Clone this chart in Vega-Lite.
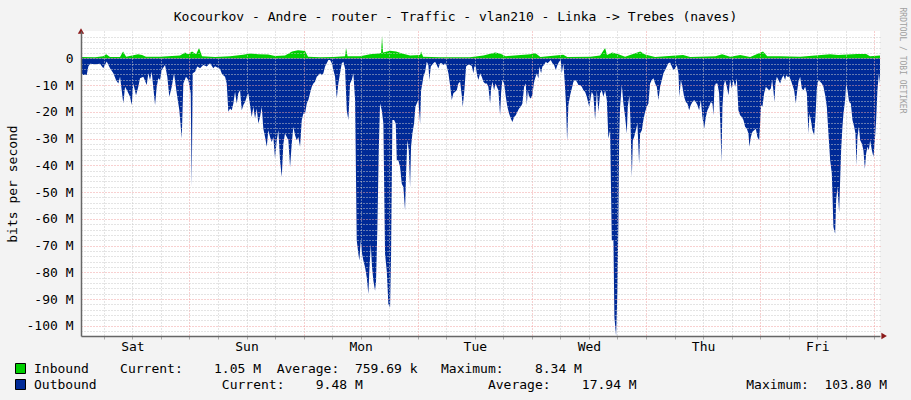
{
  "$schema": "https://vega.github.io/schema/vega-lite/v6.json",
  "width": 799,
  "height": 305,
  "autosize": {"type": "none"},
  "padding": {"left": 81, "top": 31, "right": 31, "bottom": 64},
  "background": "#f3f3f3",
  "title": {
    "text": "Kocourkov - Andre - router - Traffic - vlan210 - Linka -> Trebes (naves)",
    "anchor": "middle", "dx": -25, "dy": 23, "offset": 0, "baseline": "middle",
    "font": "DejaVu Sans Mono", "fontSize": 13, "fontWeight": "normal", "color": "#000"
  },
  "config": {
    "view": {"fill": "#ffffff", "stroke": null},
    "font": "DejaVu Sans Mono"
  },
  "datasets": {
    "outbound": [
      {"t": -22.8, "v": -3}, {"t": -22.65, "v": -5.6}, {"t": -22.31, "v": -6.2}, {"t": -21.6, "v": -6.2},
      {"t": -21.26, "v": -3.1}, {"t": -20.9, "v": -2}, {"t": -19.85, "v": -2.2}, {"t": -18.8, "v": -2},
      {"t": -18.11, "v": -3.7}, {"t": -17.39, "v": -1.2}, {"t": -16.7, "v": -3.7}, {"t": -16, "v": -5.6},
      {"t": -15.44, "v": -8.1}, {"t": -14.95, "v": -9.4}, {"t": -14.59, "v": -6.9}, {"t": -13.9, "v": -16.9},
      {"t": -13.54, "v": -10.6}, {"t": -12.98, "v": -12.5}, {"t": -12.49, "v": -14.4}, {"t": -12.13, "v": -17.5},
      {"t": -11.8, "v": -9.4}, {"t": -11.23, "v": -13.8}, {"t": -10.75, "v": -10.6}, {"t": -10.39, "v": -7.5},
      {"t": -9.69, "v": -6.9}, {"t": -8.98, "v": -10}, {"t": -8.64, "v": -5.6}, {"t": -8.29, "v": -8.1},
      {"t": -7.93, "v": -5}, {"t": -7.23, "v": -17.5}, {"t": -6.88, "v": -10.6}, {"t": -6.54, "v": -7.5},
      {"t": -6.18, "v": -8.1}, {"t": -5.83, "v": -4.4}, {"t": -5.13, "v": -2.5}, {"t": -4.65, "v": -6.9},
      {"t": -4.23, "v": -14.4}, {"t": -3.72, "v": -10.6}, {"t": -3.24, "v": -5.6}, {"t": -2.67, "v": -13.1},
      {"t": -2.12, "v": -19.4}, {"t": -1.62, "v": -30}, {"t": -1.28, "v": -9.4}, {"t": -0.72, "v": -6.9},
      {"t": -0.23, "v": -8.1}, {"t": 0.27, "v": -13.1}, {"t": 0.48, "v": -48}, {"t": 0.69, "v": -5.6},
      {"t": 1.18, "v": -5}, {"t": 1.66, "v": -3.1}, {"t": 2.23, "v": -3.7}, {"t": 2.92, "v": -2.5},
      {"t": 3.64, "v": -3.1}, {"t": 4.33, "v": -1.9}, {"t": 5.03, "v": -3.7}, {"t": 5.38, "v": -3},
      {"t": 6.44, "v": -4}, {"t": 6.86, "v": -6}, {"t": 7.49, "v": -6.9}, {"t": 7.84, "v": -9.4},
      {"t": 8.18, "v": -20}, {"t": 8.54, "v": -18.8}, {"t": 8.9, "v": -19.4}, {"t": 9.23, "v": -16.9},
      {"t": 9.59, "v": -12.5}, {"t": 9.95, "v": -16.9}, {"t": 10.28, "v": -13.1}, {"t": 10.64, "v": -11.9},
      {"t": 11.0, "v": -19.4}, {"t": 11.34, "v": -17.5}, {"t": 11.69, "v": -16.3}, {"t": 12.05, "v": -14.4},
      {"t": 12.39, "v": -13.1}, {"t": 12.74, "v": -17.5}, {"t": 13.1, "v": -21.9}, {"t": 13.44, "v": -18.1},
      {"t": 13.8, "v": -22.5}, {"t": 14.15, "v": -18.8}, {"t": 14.49, "v": -24.4}, {"t": 14.85, "v": -21.9},
      {"t": 15.2, "v": -18.1}, {"t": 15.54, "v": -26.3}, {"t": 15.9, "v": -29.4}, {"t": 16.26, "v": -33.1},
      {"t": 16.59, "v": -26.9}, {"t": 16.95, "v": -29.4}, {"t": 17.31, "v": -31.3}, {"t": 17.64, "v": -29.4},
      {"t": 18.0, "v": -37.5}, {"t": 18.36, "v": -30.6}, {"t": 18.7, "v": -26.9}, {"t": 19.05, "v": -38.1},
      {"t": 19.41, "v": -44.4}, {"t": 19.75, "v": -31.9}, {"t": 20.1, "v": -28.1}, {"t": 20.46, "v": -29.4},
      {"t": 20.8, "v": -30.6}, {"t": 21.16, "v": -40.6}, {"t": 21.51, "v": -31.9}, {"t": 21.85, "v": -25.6},
      {"t": 22.21, "v": -28.8}, {"t": 22.56, "v": -30.6}, {"t": 22.9, "v": -29.4}, {"t": 23.26, "v": -33.1},
      {"t": 23.62, "v": -23.1}, {"t": 23.95, "v": -20.6}, {"t": 24.31, "v": -20.6}, {"t": 24.67, "v": -16.9},
      {"t": 25.0, "v": -15.6}, {"t": 25.36, "v": -13.1}, {"t": 25.72, "v": -10.6}, {"t": 26.06, "v": -9.4},
      {"t": 26.41, "v": -8.8}, {"t": 26.77, "v": -6.9}, {"t": 27.11, "v": -6.3}, {"t": 27.47, "v": -5.6},
      {"t": 27.82, "v": -6.3}, {"t": 28.16, "v": -5.6}, {"t": 28.52, "v": -3.1}, {"t": 28.87, "v": -1.9},
      {"t": 29.21, "v": -0.6}, {"t": 29.57, "v": -0.6}, {"t": 29.93, "v": -1.9}, {"t": 30.26, "v": -4.4},
      {"t": 30.62, "v": -6.9}, {"t": 30.98, "v": -15}, {"t": 31.31, "v": -9.4}, {"t": 31.67, "v": -5.6},
      {"t": 32.03, "v": -1.9}, {"t": 32.37, "v": -1.3}, {"t": 32.72, "v": -3.8}, {"t": 33.08, "v": -19.4},
      {"t": 33.42, "v": -23.1}, {"t": 33.77, "v": -9.4}, {"t": 34.13, "v": -8.1}, {"t": 34.47, "v": -5.6},
      {"t": 34.83, "v": -15.6}, {"t": 35.18, "v": -68.1}, {"t": 35.52, "v": -73.1}, {"t": 35.73, "v": -75.6},
      {"t": 36.02, "v": -68.1}, {"t": 36.3, "v": -73.1}, {"t": 36.57, "v": -75.6}, {"t": 36.93, "v": -78.1},
      {"t": 37.29, "v": -81.9}, {"t": 37.62, "v": -88.1}, {"t": 37.83, "v": -79.4}, {"t": 38.13, "v": -69.4},
      {"t": 38.4, "v": -78.1}, {"t": 38.67, "v": -83.1}, {"t": 39.03, "v": -86.9}, {"t": 39.24, "v": -83.1},
      {"t": 39.52, "v": -63.1}, {"t": 39.81, "v": -34.4}, {"t": 40.08, "v": -16.9}, {"t": 40.44, "v": -19.4},
      {"t": 40.78, "v": -24.4}, {"t": 41.13, "v": -73.1}, {"t": 41.49, "v": -79.4}, {"t": 41.83, "v": -91.9},
      {"t": 42.19, "v": -93.1}, {"t": 42.4, "v": -73.1}, {"t": 42.67, "v": -23.1}, {"t": 43.03, "v": -23.1},
      {"t": 43.38, "v": -24.4}, {"t": 43.6, "v": -38.1}, {"t": 43.93, "v": -38.1}, {"t": 44.29, "v": -40.6},
      {"t": 44.65, "v": -46.9}, {"t": 44.98, "v": -48.1}, {"t": 45.34, "v": -56.9}, {"t": 45.55, "v": -43.1},
      {"t": 45.82, "v": -30.6}, {"t": 46.12, "v": -34.4}, {"t": 46.39, "v": -48.1}, {"t": 46.6, "v": -33.1},
      {"t": 46.88, "v": -28.1}, {"t": 47.23, "v": -24.4}, {"t": 47.51, "v": -18.1}, {"t": 47.8, "v": -16.9},
      {"t": 48.14, "v": -15.6}, {"t": 48.5, "v": -24.4}, {"t": 48.71, "v": -11.9}, {"t": 48.92, "v": -10},
      {"t": 49.19, "v": -6.9}, {"t": 49.55, "v": -5}, {"t": 49.9, "v": -1.3}, {"t": 50.24, "v": -2.5},
      {"t": 50.45, "v": -8.1}, {"t": 50.75, "v": -3.1}, {"t": 51.29, "v": -1.9}, {"t": 51.65, "v": -1.3},
      {"t": 52.01, "v": -2.5}, {"t": 52.34, "v": -3.8}, {"t": 52.7, "v": -1.9}, {"t": 53.06, "v": -1.9},
      {"t": 53.4, "v": -2.5}, {"t": 53.75, "v": -1.9}, {"t": 54.11, "v": -3.1}, {"t": 54.45, "v": -5.6},
      {"t": 54.8, "v": -10}, {"t": 55.16, "v": -15.6}, {"t": 55.5, "v": -13.1}, {"t": 55.86, "v": -12.5},
      {"t": 56.21, "v": -11.9}, {"t": 56.55, "v": -9.4}, {"t": 56.91, "v": -8.8}, {"t": 57.26, "v": -13.8},
      {"t": 57.47, "v": -18.1}, {"t": 57.81, "v": -11.9}, {"t": 58.17, "v": -3.1}, {"t": 58.53, "v": -2.5},
      {"t": 59.01, "v": -2.5}, {"t": 59.37, "v": -2.9}, {"t": 59.7, "v": -5.6}, {"t": 59.91, "v": -3.1},
      {"t": 60.21, "v": -3.1}, {"t": 60.48, "v": -6.3}, {"t": 60.76, "v": -8.1}, {"t": 61.11, "v": -5.6},
      {"t": 61.47, "v": -6.9}, {"t": 61.81, "v": -8.8}, {"t": 62.16, "v": -9.4}, {"t": 62.52, "v": -9.4},
      {"t": 62.86, "v": -10.6}, {"t": 63.22, "v": -16.9}, {"t": 63.43, "v": -11.3}, {"t": 63.7, "v": -8.8},
      {"t": 64.06, "v": -11.9}, {"t": 64.33, "v": -9.4}, {"t": 64.63, "v": -10.6}, {"t": 64.96, "v": -11.9},
      {"t": 65.32, "v": -21.3}, {"t": 65.53, "v": -13.1}, {"t": 65.8, "v": -8.1}, {"t": 66.16, "v": -9.4},
      {"t": 66.52, "v": -14.4}, {"t": 66.85, "v": -18.1}, {"t": 67.21, "v": -20.6}, {"t": 67.57, "v": -22.5},
      {"t": 67.91, "v": -23.8}, {"t": 68.26, "v": -21.9}, {"t": 68.62, "v": -21.3}, {"t": 68.96, "v": -20},
      {"t": 69.31, "v": -18.8}, {"t": 69.67, "v": -18.1}, {"t": 70.01, "v": -16.9}, {"t": 70.37, "v": -10.6},
      {"t": 70.72, "v": -9.4}, {"t": 70.93, "v": -17.5}, {"t": 71.14, "v": -11.9}, {"t": 71.42, "v": -14.4},
      {"t": 71.78, "v": -15}, {"t": 72.11, "v": -13.8}, {"t": 72.41, "v": -9.4}, {"t": 72.68, "v": -7.5},
      {"t": 73.04, "v": -5.6}, {"t": 73.37, "v": -7.5}, {"t": 73.58, "v": -3.1}, {"t": 73.94, "v": -5.6},
      {"t": 74.21, "v": -3.1}, {"t": 74.57, "v": -2.5}, {"t": 74.93, "v": -1.3}, {"t": 75.27, "v": -1.9},
      {"t": 75.62, "v": -1.3}, {"t": 75.98, "v": -0.6}, {"t": 76.32, "v": -1.9}, {"t": 76.68, "v": -2.5},
      {"t": 77.03, "v": -4.4}, {"t": 77.37, "v": -2.5}, {"t": 77.73, "v": -1.3}, {"t": 78.08, "v": -0.6},
      {"t": 78.29, "v": -5.6}, {"t": 78.63, "v": -1.9}, {"t": 78.93, "v": -9.4}, {"t": 79.2, "v": -18.1},
      {"t": 79.41, "v": -31}, {"t": 79.68, "v": -17.5}, {"t": 80.04, "v": -13.8}, {"t": 80.4, "v": -11.3},
      {"t": 80.73, "v": -8.8}, {"t": 81.09, "v": -8.1}, {"t": 81.45, "v": -8.8}, {"t": 81.79, "v": -10},
      {"t": 82.14, "v": -10}, {"t": 82.5, "v": -10.6}, {"t": 82.84, "v": -11.9}, {"t": 83.19, "v": -12.5},
      {"t": 83.55, "v": -14.4}, {"t": 83.89, "v": -16.9}, {"t": 84.1, "v": -18.1}, {"t": 84.39, "v": -14.4},
      {"t": 84.6, "v": -12.5}, {"t": 84.94, "v": -13.8}, {"t": 85.3, "v": -23.1}, {"t": 85.66, "v": -11.9},
      {"t": 85.99, "v": -20}, {"t": 86.35, "v": -13.1}, {"t": 86.71, "v": -11.9}, {"t": 87.04, "v": -14.4},
      {"t": 87.4, "v": -11.9}, {"t": 87.76, "v": -15.6}, {"t": 88.09, "v": -30}, {"t": 88.45, "v": -26.9},
      {"t": 88.81, "v": -68.1}, {"t": 89.15, "v": -68.1}, {"t": 89.36, "v": -96.9}, {"t": 89.71, "v": -103.8},
      {"t": 89.99, "v": -86.9}, {"t": 90.2, "v": -60.6}, {"t": 90.35, "v": -30.6}, {"t": 90.55, "v": -18.1},
      {"t": 90.91, "v": -10}, {"t": 91.25, "v": -16.9}, {"t": 91.61, "v": -21.9}, {"t": 91.96, "v": -28.1},
      {"t": 92.17, "v": -18.1}, {"t": 92.51, "v": -13.8}, {"t": 92.72, "v": -23.1}, {"t": 93.02, "v": -44.4},
      {"t": 93.23, "v": -30.6}, {"t": 93.5, "v": -29.4}, {"t": 93.86, "v": -26.9}, {"t": 94.19, "v": -24.4},
      {"t": 94.55, "v": -39.4}, {"t": 94.76, "v": -28.1}, {"t": 95.12, "v": -26.9}, {"t": 95.45, "v": -23.1},
      {"t": 95.81, "v": -20}, {"t": 96.17, "v": -18.1}, {"t": 96.51, "v": -16.9}, {"t": 96.86, "v": -9.4},
      {"t": 97.22, "v": -8.1}, {"t": 97.56, "v": -7.5}, {"t": 97.92, "v": -9.4}, {"t": 98.27, "v": -10.6},
      {"t": 98.61, "v": -15.6}, {"t": 98.97, "v": -10.6}, {"t": 99.33, "v": -8.1}, {"t": 99.66, "v": -5.6},
      {"t": 100.02, "v": -4.4}, {"t": 100.38, "v": -3.1}, {"t": 100.71, "v": -1.9}, {"t": 101.07, "v": -1.6},
      {"t": 101.43, "v": -3.1}, {"t": 101.76, "v": -4.4}, {"t": 102.12, "v": -3.8}, {"t": 102.48, "v": -2.5},
      {"t": 102.82, "v": -5.6}, {"t": 103.03, "v": -14.4}, {"t": 103.32, "v": -8.1}, {"t": 103.66, "v": -10.6},
      {"t": 104.01, "v": -14.4}, {"t": 104.37, "v": -16.3}, {"t": 104.71, "v": -16.9}, {"t": 105.07, "v": -19.4},
      {"t": 105.42, "v": -17.5}, {"t": 105.76, "v": -16.3}, {"t": 106.12, "v": -15.6}, {"t": 106.47, "v": -16.3},
      {"t": 106.81, "v": -17.5}, {"t": 107.17, "v": -19.4}, {"t": 107.53, "v": -15.6}, {"t": 107.86, "v": -21.9},
      {"t": 108.22, "v": -26.3}, {"t": 108.58, "v": -21.9}, {"t": 108.91, "v": -19.4}, {"t": 109.27, "v": -18.1},
      {"t": 109.63, "v": -16.3}, {"t": 109.97, "v": -16.9}, {"t": 110.18, "v": -21.3}, {"t": 110.39, "v": -10.6},
      {"t": 110.68, "v": -9.4}, {"t": 111.02, "v": -9.4}, {"t": 111.37, "v": -13.1}, {"t": 111.65, "v": -25.6},
      {"t": 111.86, "v": -38.8}, {"t": 112.07, "v": -18.1}, {"t": 112.36, "v": -10}, {"t": 112.64, "v": -8.1},
      {"t": 113.0, "v": -10.6}, {"t": 113.33, "v": -13.8}, {"t": 113.69, "v": -8.1}, {"t": 114.05, "v": -11.3},
      {"t": 114.38, "v": -8.1}, {"t": 114.74, "v": -10.6}, {"t": 115.1, "v": -7.5}, {"t": 115.43, "v": -19.4},
      {"t": 115.79, "v": -21.3}, {"t": 116.15, "v": -21.9}, {"t": 116.49, "v": -23.1}, {"t": 116.84, "v": -25.6},
      {"t": 117.2, "v": -26.3}, {"t": 117.54, "v": -28.1}, {"t": 117.75, "v": -33.1}, {"t": 118.04, "v": -29.4},
      {"t": 118.38, "v": -27.5}, {"t": 118.74, "v": -26.9}, {"t": 119.09, "v": -26.3}, {"t": 119.43, "v": -29.4},
      {"t": 119.79, "v": -30.6}, {"t": 120.0, "v": -24.4}, {"t": 120.21, "v": -17.5}, {"t": 120.48, "v": -18.1},
      {"t": 120.84, "v": -13.1}, {"t": 121.2, "v": -10.6}, {"t": 121.53, "v": -11.3}, {"t": 121.89, "v": -11.9},
      {"t": 122.25, "v": -11.3}, {"t": 122.52, "v": -8.1}, {"t": 122.79, "v": -11.9}, {"t": 123.0, "v": -16.3},
      {"t": 123.21, "v": -9.4}, {"t": 123.51, "v": -6.9}, {"t": 123.85, "v": -8.1}, {"t": 124.2, "v": -9.4},
      {"t": 124.56, "v": -7.5}, {"t": 124.9, "v": -6.3}, {"t": 125.25, "v": -8.1}, {"t": 125.46, "v": -6.3},
      {"t": 125.74, "v": -6.9}, {"t": 126.1, "v": -6.9}, {"t": 126.45, "v": -8.1}, {"t": 126.79, "v": -10},
      {"t": 127.15, "v": -11.9}, {"t": 127.5, "v": -16.9}, {"t": 127.72, "v": -13.1}, {"t": 128.05, "v": -8.8},
      {"t": 128.41, "v": -6.9}, {"t": 128.77, "v": -11.3}, {"t": 129.1, "v": -11.9}, {"t": 129.46, "v": -10.6},
      {"t": 129.82, "v": -13.1}, {"t": 130.15, "v": -28.1}, {"t": 130.36, "v": -20.6}, {"t": 130.66, "v": -23.1},
      {"t": 131.0, "v": -26.9}, {"t": 131.35, "v": -28.8}, {"t": 131.63, "v": -21.9}, {"t": 131.92, "v": -11.3},
      {"t": 132.26, "v": -8.1}, {"t": 132.62, "v": -8.8}, {"t": 132.97, "v": -9.4}, {"t": 133.31, "v": -10.6},
      {"t": 133.67, "v": -13.8}, {"t": 134.02, "v": -18.1}, {"t": 134.36, "v": -28.1}, {"t": 134.72, "v": -38.1},
      {"t": 135.07, "v": -43.1}, {"t": 135.41, "v": -63.1}, {"t": 135.77, "v": -65.6}, {"t": 135.98, "v": -53.1},
      {"t": 136.25, "v": -48.1}, {"t": 136.61, "v": -57.5}, {"t": 136.82, "v": -45.6}, {"t": 137.03, "v": -34.4},
      {"t": 137.3, "v": -25.6}, {"t": 137.52, "v": -20.6}, {"t": 137.87, "v": -15.6}, {"t": 138.08, "v": -9.4},
      {"t": 138.36, "v": -11.9}, {"t": 138.71, "v": -16.3}, {"t": 139.07, "v": -16.9}, {"t": 139.41, "v": -23.1},
      {"t": 139.77, "v": -25.6}, {"t": 140.04, "v": -28.1}, {"t": 140.25, "v": -40}, {"t": 140.46, "v": -29.4},
      {"t": 140.75, "v": -25.6}, {"t": 141.03, "v": -30.6}, {"t": 141.39, "v": -31.9}, {"t": 141.72, "v": -34.4},
      {"t": 142.02, "v": -41.3}, {"t": 142.29, "v": -35.6}, {"t": 142.57, "v": -33.1}, {"t": 142.86, "v": -34.4},
      {"t": 143.13, "v": -30.6}, {"t": 143.49, "v": -34.4}, {"t": 143.83, "v": -36.9}, {"t": 144.12, "v": -30.6},
      {"t": 144.39, "v": -23.1}, {"t": 144.66, "v": -11.9}, {"t": 144.96, "v": -5.6}, {"t": 145.2, "v": -9.5}
    ],
    "inbound": [
      {"t": -22.8, "v": 0.5}, {"t": -19.85, "v": 0.4}, {"t": -18.13, "v": 0.8}, {"t": -17.5, "v": 1.5},
      {"t": -16.7, "v": 0.5}, {"t": -14.6, "v": 0.5}, {"t": -13.96, "v": 2.5}, {"t": -13.3, "v": 0.6},
      {"t": -10.8, "v": 1.5}, {"t": -9.97, "v": 1.2}, {"t": -9.13, "v": 0.6}, {"t": -6.18, "v": 0.6},
      {"t": -1.98, "v": 1.0}, {"t": -0.93, "v": 2.2}, {"t": -0.29, "v": 1.5}, {"t": 0.55, "v": 2.5},
      {"t": 1.39, "v": 1.5}, {"t": 2.02, "v": 3.8}, {"t": 2.65, "v": 0.8}, {"t": 5.38, "v": 0.5},
      {"t": 8.54, "v": 0.8}, {"t": 11.27, "v": 1.3}, {"t": 12.74, "v": 1.8}, {"t": 14.43, "v": 1.5},
      {"t": 16.53, "v": 1.4}, {"t": 18.0, "v": 0.9}, {"t": 20.1, "v": 1.0}, {"t": 21.58, "v": 2.5},
      {"t": 22.84, "v": 3.0}, {"t": 24.31, "v": 2.7}, {"t": 24.94, "v": 0.6}, {"t": 27.47, "v": 0.4},
      {"t": 30.2, "v": 0.5}, {"t": 32.72, "v": 0.8}, {"t": 32.93, "v": 3.8}, {"t": 33.25, "v": 0.8},
      {"t": 35.88, "v": 0.8}, {"t": 37.98, "v": 1.5}, {"t": 39.66, "v": 1.8}, {"t": 40.29, "v": 2.0},
      {"t": 40.5, "v": 8.3}, {"t": 40.71, "v": 2.2}, {"t": 42.19, "v": 2.8}, {"t": 43.45, "v": 2.5},
      {"t": 44.72, "v": 1.8}, {"t": 46.39, "v": 1.0}, {"t": 48.5, "v": 1.2}, {"t": 48.71, "v": 2.5},
      {"t": 49.13, "v": 0.6}, {"t": 52.7, "v": 0.4}, {"t": 59.0, "v": 0.4}, {"t": 61.8, "v": 1.0},
      {"t": 64.3, "v": 2.2}, {"t": 65.3, "v": 1.8}, {"t": 66.5, "v": 0.8}, {"t": 71.7, "v": 1.5},
      {"t": 72.7, "v": 2.0}, {"t": 73.8, "v": 0.5}, {"t": 78.6, "v": 1.3}, {"t": 79.45, "v": 0.5},
      {"t": 84.3, "v": 0.6}, {"t": 86.35, "v": 1.0}, {"t": 87.4, "v": 3.8}, {"t": 87.8, "v": 1.2},
      {"t": 88.9, "v": 2.2}, {"t": 90.2, "v": 1.5}, {"t": 91.6, "v": 0.6}, {"t": 94.8, "v": 2.5},
      {"t": 95.8, "v": 1.4}, {"t": 97.9, "v": 0.5}, {"t": 103.8, "v": 1.2}, {"t": 105.3, "v": 0.5},
      {"t": 110.6, "v": 0.8}, {"t": 112.0, "v": 1.5}, {"t": 113.7, "v": 0.6}, {"t": 115.8, "v": 1.2},
      {"t": 117.9, "v": 0.5}, {"t": 120.6, "v": 2.5}, {"t": 121.5, "v": 0.8}, {"t": 124.2, "v": 0.8},
      {"t": 128.4, "v": 0.6}, {"t": 134.7, "v": 1.5}, {"t": 136.4, "v": 1.2}, {"t": 140.4, "v": 1.6},
      {"t": 142.3, "v": 1.6}, {"t": 143.1, "v": 0.8}, {"t": 145.2, "v": 1.05}
    ]
  },
  "encoding": {
    "x": {
      "field": "t", "type": "quantitative",
      "scale": {"domain": [-22.8, 145.2], "nice": false, "zero": false},
      "axis": {
        "title": null,
        "values": [-18, -12, -6, 0, 6, 12, 18, 24, 30, 36, 42, 48, 54, 60, 66, 72, 78, 84, 90, 96, 102, 108, 114, 120, 126, 132, 138, 144],
        "labelExpr": "(datum.value + 12) % 24 === 0 ? ['Sat','Sun','Mon','Tue','Wed','Thu','Fri'][(datum.value + 12) / 24] : ''",
        "labelFont": "DejaVu Sans Mono", "labelFontSize": 13, "labelColor": "#000",
        "labelPadding": 1, "labelFlush": false, "labelOverlap": false,
        "ticks": true, "tickSize": 3, "tickColor": "#aaaaaa",
        "domainColor": "#666666", "domainWidth": 1.5,
        "grid": true, "gridDash": [1, 2], "gridWidth": 1,
        "gridColor": {"condition": {"test": "datum.value % 24 === 0", "value": "#f0a0a0"}, "value": "#c8c8c8"},
        "zindex": 1
      }
    }
  },
  "layer": [
    {
      "encoding": {
        "y": {
          "field": "v", "type": "quantitative",
          "scale": {"domain": [-103.8, 10.2], "nice": false, "zero": false},
          "axis": {
            "title": "bits per second",
            "titleFont": "DejaVu Sans Mono", "titleFontSize": 13, "titleFontWeight": "normal", "titleColor": "#000",
            "titlePadding": 7,
            "values": [-102, -100, -98, -96, -94, -92, -90, -88, -86, -84, -82, -80, -78, -76, -74, -72, -70, -68, -66, -64, -62, -60, -58, -56, -54, -52, -50, -48, -46, -44, -42, -40, -38, -36, -34, -32, -30, -28, -26, -24, -22, -20, -18, -16, -14, -12, -10, -8, -6, -4, -2, 0, 2, 4, 6, 8],
            "labelExpr": "datum.value % 10 === 0 ? (datum.value === 0 ? '0' : datum.value + ' M') : ''",
            "labelFont": "DejaVu Sans Mono", "labelFontSize": 13, "labelColor": "#000",
            "labelPadding": 8, "labelOverlap": false, "labelFlush": false,
            "ticks": false,
            "domainColor": "#666666", "domainWidth": 1.5,
            "grid": true, "gridDash": [1, 2], "gridWidth": 1,
            "gridColor": {"condition": {"test": "datum.value % 10 === 0", "value": "#f0a0a0"}, "value": "#c8c8c8"},
            "zindex": 1
          }
        }
      },
      "layer": [
        {
          "data": {"name": "outbound"},
          "mark": {"type": "area", "interpolate": "linear"},
          "encoding": {
            "color": {
              "datum": "Outbound",
              "scale": {"domain": ["Inbound", "Outbound"], "range": ["#00cf00", "#002a97"]},
              "legend": {
                "orient": "none", "legendX": -67, "legendY": 331, "direction": "vertical",
                "title": null, "padding": 0,
                "symbolType": "square", "symbolSize": 100, "symbolStrokeColor": "#000", "symbolStrokeWidth": 1, "symbolOpacity": 1,
                "labelFont": "DejaVu Sans Mono", "labelFontSize": 13, "labelColor": "#000",
                "labelLimit": 0, "labelOffset": 7, "rowPadding": 1,
                "labelExpr": "datum.label === 'Inbound' ? 'Inbound\u00a0\u00a0\u00a0\u00a0Current:\u00a0\u00a0\u00a0\u00a01.05\u00a0M\u00a0\u00a0Average:\u00a0\u00a0759.69\u00a0k\u00a0\u00a0\u00a0Maximum:\u00a0\u00a0\u00a0\u00a08.34\u00a0M' : 'Outbound\u00a0\u00a0\u00a0\u00a0\u00a0\u00a0\u00a0\u00a0\u00a0\u00a0\u00a0\u00a0\u00a0\u00a0\u00a0\u00a0Current:\u00a0\u00a0\u00a0\u00a09.48\u00a0M\u00a0\u00a0\u00a0\u00a0\u00a0\u00a0\u00a0\u00a0\u00a0\u00a0\u00a0\u00a0\u00a0\u00a0\u00a0\u00a0Average:\u00a0\u00a0\u00a0\u00a017.94\u00a0M\u00a0\u00a0\u00a0\u00a0\u00a0\u00a0\u00a0\u00a0\u00a0\u00a0\u00a0\u00a0\u00a0\u00a0Maximum:\u00a0\u00a0103.80\u00a0M'"
              }
            }
          }
        },
        {
          "data": {"name": "inbound"},
          "mark": {"type": "area", "interpolate": "linear"},
          "encoding": {"color": {"datum": "Inbound"}}
        },
        {
          "data": {"values": [{"t": -22.8, "v": 10.2}]},
          "mark": {"type": "point", "shape": "triangle-up", "filled": true, "size": 40, "color": "#8b1a1a", "opacity": 1}
        }
      ]
    },
    {
      "data": {"values": [{"t": 146.07, "v": -103.8}]},
      "mark": {"type": "point", "shape": "triangle-right", "filled": true, "size": 40, "color": "#8b1a1a", "opacity": 1},
      "encoding": {
        "y": {
          "field": "v", "type": "quantitative",
          "scale": {"domain": [-103.8, 10.2], "nice": false, "zero": false},
          "axis": {
            "orient": "right", "labels": false, "ticks": false, "domain": false, "grid": false,
            "title": "RRDTOOL / TOBI OETIKER",
            "titleFont": "DejaVu Sans Mono", "titleFontSize": 8, "titleFontWeight": "normal", "titleColor": "#a0a0a0",
            "titleAngle": 90, "titleX": 21, "titleY": 29, "titleAlign": "center", "titleBaseline": "middle"
          }
        }
      }
    }
  ],
  "resolve": {"scale": {"y": "independent"}, "axis": {"y": "independent"}}
}
